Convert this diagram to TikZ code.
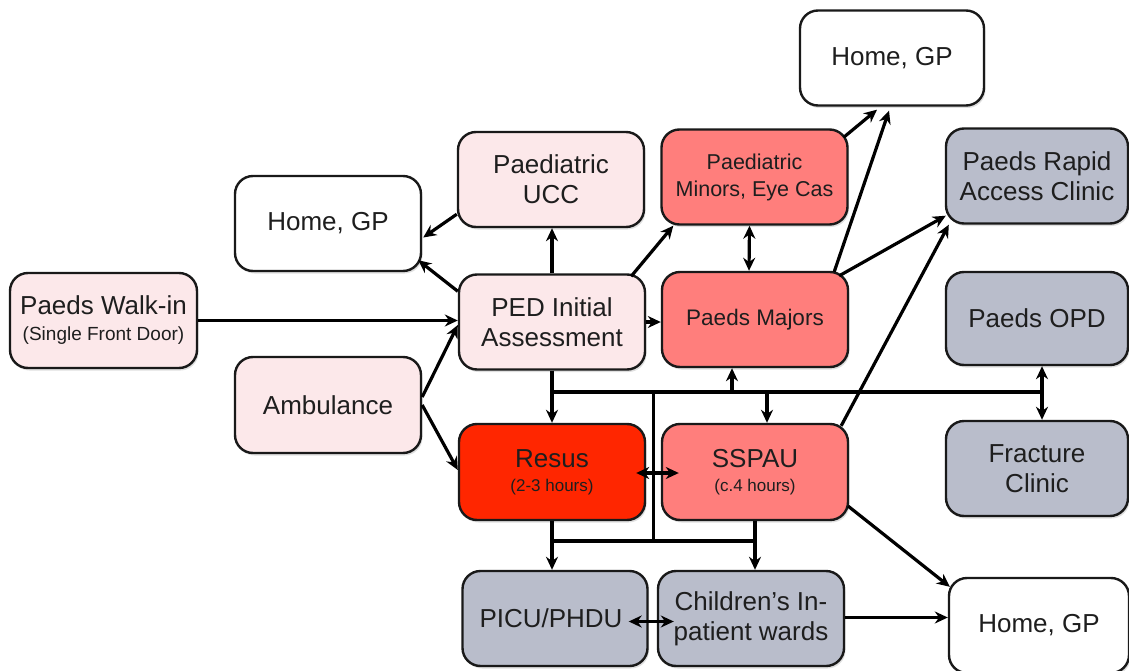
\documentclass[tikz,border=0pt]{standalone}
\usepackage{fontspec}
\setmainfont{Liberation Sans}
\usetikzlibrary{arrows.meta,calc,shadows}
\definecolor{pinkbox}{RGB}{252,232,234}
\definecolor{salmon}{RGB}{255,126,124}
\definecolor{resusred}{RGB}{255,38,0}
\definecolor{greybox}{RGB}{185,189,203}
\definecolor{txt}{RGB}{30,30,30}
\tikzset{
  box/.style={draw=black!90, line width=2.4pt, rounded corners=18pt,
    minimum width=186pt, minimum height=95pt, inner sep=0pt, align=center,
    text=txt, font=\fontsize{26}{30}\selectfont,
    drop shadow={opacity=0.25, shadow xshift=1.5pt, shadow yshift=-2.5pt}},
  rbox/.style={box, minimum width=182pt},
  wbox/.style={fill=white},
  pbox/.style={fill=pinkbox},
  sbox/.style={fill=salmon},
  gbox/.style={fill=greybox},
  arr/.style={line width=3.2pt, -{Stealth[length=13pt,width=12pt]}},
  darr/.style={line width=3.2pt, {Stealth[length=13pt,width=12pt]}-{Stealth[length=13pt,width=12pt]}},
  ln/.style={line width=3.2pt},
}
\begin{document}
\begin{tikzpicture}[x=1pt,y=-1pt]
\useasboundingbox (0,0) rectangle (1129,671);
% nodes
\node[box,wbox,minimum width=184pt] (homeT) at (892,58) {Home, GP};
\node[box,pbox] (ucc) at (551,179.5) {Paediatric\\UCC};
\node[box,sbox,font=\fontsize{21.5}{27}\selectfont] (minors) at (754.5,177) {Paediatric\\Minors,\ Eye\ Cas};
\node[rbox,gbox] (rapid) at (1037,176) {Paeds Rapid\\Access Clinic};
\node[box,wbox] (homeL) at (328,223.5) {Home, GP};
\node[box,pbox,minimum width=187pt] (walk) at (103.5,320.5) {Paeds Walk-in\\[-4pt]{\fontsize{19}{22}\selectfont (Single Front Door)}};
\node[box,pbox] (ped) at (552,322) {PED Initial\\Assessment};
\node[box,sbox,font=\fontsize{22.5}{26}\selectfont] (majors) at (755,319.5) {Paeds Majors};
\node[rbox,gbox,minimum height=93pt] (opd) at (1037,318.5) {Paeds OPD};
\node[box,pbox,minimum height=96pt] (amb) at (328,405) {Ambulance};
\node[box,fill=resusred,minimum height=96pt] (resus) at (552,472) {Resus\\[-6pt]{\fontsize{17}{20}\selectfont (2-3 hours)}};
\node[box,sbox,minimum height=96pt] (sspau) at (755,472) {SSPAU\\[-6pt]{\fontsize{17}{20}\selectfont (c.4 hours)}};
\node[rbox,gbox] (frac) at (1037,468.5) {Fracture\\Clinic};
\node[box,gbox,minimum width=185pt] (picu) at (555,618.5) {\hspace*{-8pt}PICU/PHDU};
\node[box,gbox] (wards) at (751,618.5) {Children’s In-\\patient wards};
\node[box,wbox,minimum width=180pt] (homeB) at (1039,625.5) {Home, GP};
% helper coordinates
\coordinate (bus) at (0,392);
\coordinate (bus2) at (0,541);
\coordinate (mid) at ($(resus.east)!0.5!(sspau.west)$);
\coordinate (mjB) at ($(majors.south)+(-23,0)$);
\coordinate (spT) at ($(sspau.north)+(12,0)$);
\coordinate (opdB) at ($(opd.south)+(5,0)$);
\coordinate (frT) at ($(frac.north)+(5,0)$);
\coordinate (wE) at ($(wards.east)+(0,-1)$);
% connectors
\draw[arr] (walk.east) -- (walk.east -| ped.west);
\draw[arr] ($(amb.east)+(0,-8)$) -- ($(ped.west)+(0,3)$);
\draw[arr] (amb.east) -- ($(resus.west)+(0,-2)$);
\draw[arr] ($(ped.north west)+(0,18)$) -- ($(homeL.south east)+(-4,-12)$);
\draw[arr] ($(ucc.south west)+(0,-14)$) -- ($(homeL.east)+(1,14)$);
\draw[arr] (ped.north) -- (ped.north |- ucc.south);
\draw[arr] ($(ped.north east)+(-15,3)$) -- ($(minors.south west)+(13,0)$);
\draw[arr] (ped.east) -- (ped.east -| majors.west);
\draw[darr] ($(minors.south)+(-5,0)$) -- ($(majors.north)+(-6,0)$);
\draw[arr] ($(minors.north east)+(-5,9)$) -- ($(homeT.south)+(-15,3)$);
\draw[arr] ($(majors.north east)+(-15,1)$) -- ($(homeT.south)+(-3,4)$);
\draw[arr] ($(majors.north east)+(-10,5)$) -- ($(rapid.south west)+(1,-9)$);
\draw[arr] ($(sspau.north east)+(-8,3)$) -- ($(rapid.south west)+(4,0)$);
\draw[arr] ($(sspau.south east)+(-1,-15)$) -- ($(homeB.north west)+(2,10)$);
\draw[arr] (wE) -- (wE -| homeB.west);
% upper bus
\draw[arr] (ped.south) -- (resus.north);
\draw[ln] (ped.south |- bus) -- (opdB |- bus);
\draw[arr] (mjB |- bus) -- (mjB);
\draw[arr] (spT |- bus) -- (spT);
\draw[darr] (opdB) -- (frT);
\draw[ln] (mid |- bus) -- (mid |- bus2);
% lower bus
\draw[ln] (resus.south |- bus2) -- (sspau.south |- bus2);
\draw[arr] (resus.south) -- (resus.south |- picu.north);
\draw[arr] (sspau.south) -- (sspau.south |- wards.north);
\draw[darr] ($(resus.east)+(-10,1)$) -- ($(sspau.west)+(18,1)$);
\draw[darr] ($(picu.east)+(-20,3)$) -- ($(wards.west)+(17,3)$);
\end{tikzpicture}
\end{document}
